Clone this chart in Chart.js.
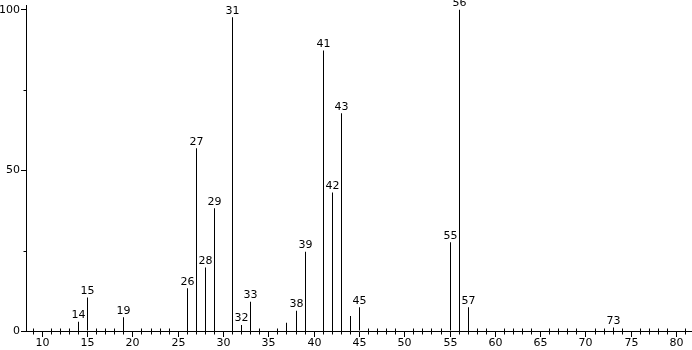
<!DOCTYPE html>
<html>
<head>
<meta charset="utf-8">
<script src="https://cdn.jsdelivr.net/npm/chart.js@4"></script>
<style>
  html, body { margin: 0; padding: 0; background: #fff; }
  #wrap { width: 692px; height: 350px; }
</style>
</head>
<body>
<div id="wrap"><canvas id="spectrum"></canvas></div>
<script>
// m/z values and relative intensities
const mz = [14, 15, 19, 26, 27, 28, 29, 31, 32, 33, 37, 38, 39, 41, 42, 43, 44, 45, 55, 56, 57, 73];
const intensity = [2.9, 10.4, 4.3, 13.3, 56.9, 19.8, 38.2, 97.7, 1.9, 9.1, 2.6, 6.3, 24.7, 87.3, 43.1, 67.8, 4.7, 7.4, 27.6, 100, 7.4, 1.1];
// peaks that carry a label above them
const labeledPeaks = [14, 15, 19, 26, 27, 28, 29, 31, 32, 33, 38, 39, 41, 42, 43, 45, 55, 56, 57, 73];
const xTickLabels = [10, 15, 20, 25, 30, 35, 40, 45, 50, 55, 60, 65, 70, 75, 80];
const yTickLabels = [0, 50, 100];

const FONT_FAMILY = '"DejaVu Sans", Verdana, sans-serif';

function majorColor(list) {
    return c => (!c.tick || list.includes(c.tick.value)) ? '#000' : 'rgba(0,0,0,0)';
}

// snap the m/z axis to pixel centres so the 1px sticks stay crisp
const snapX = {
    id: 'snapX',
    afterLayout(chart) {
        const xs = chart.scales.x;
        if (xs._snapped) return;
        const orig = xs.getPixelForValue;
        xs.getPixelForValue = function (v, i) {
            return Math.floor(orig.call(this, v, i)) + 0.5;
        };
        xs._snapped = true;
    }
};

// minor ticks + peak labels
const extras = {
    id: 'extras',
    afterDraw(chart) {
        const ctx = chart.ctx;
        const xs = chart.scales.x;
        const ys = chart.scales.y;
        const base = Math.round(ys.getPixelForValue(0)) + 0.5;
        const left = Math.round(xs.left) + 0.5;
        ctx.save();
        ctx.strokeStyle = '#000';
        ctx.lineWidth = 1;
        ctx.beginPath();
        xs.ticks.forEach(t => {
            if (xTickLabels.includes(t.value)) return;
            const px = xs.getPixelForValue(t.value);
            ctx.moveTo(px, base - 3);
            ctx.lineTo(px, base + 3);
        });
        ys.ticks.forEach(t => {
            if (yTickLabels.includes(t.value)) return;
            const py = Math.round(ys.getPixelForValue(t.value)) + 0.5;
            ctx.moveTo(left - 3, py);
            ctx.lineTo(left, py);
        });
        ctx.stroke();

        ctx.fillStyle = '#000';
        ctx.font = '11px ' + FONT_FAMILY;
        ctx.textAlign = 'center';
        ctx.textBaseline = 'bottom';
        mz.forEach((m, i) => {
            if (!labeledPeaks.includes(m)) return;
            const px = xs.getPixelForValue(m);
            const py = ys.getPixelForValue(intensity[i]);
            ctx.fillText(String(m), px, py - 1);
        });
        ctx.restore();
    }
};

new Chart(document.getElementById('spectrum'), {
    type: 'bar',
    data: {
        datasets: [{
            data: mz.map((m, i) => ({ x: m, y: intensity[i] })),
            backgroundColor: '#000',
            borderWidth: 0,
            barThickness: 1,
            inflateAmount: 0,
            grouped: false
        }]
    },
    options: {
        responsive: true,
        maintainAspectRatio: false,
        animation: false,
        layout: { padding: { top: 5, left: 0, right: 0, bottom: 0 } },
        plugins: { legend: { display: false }, tooltip: { enabled: false } },
        scales: {
            x: {
                type: 'linear',
                min: 8.2,
                max: 81.7,
                offset: false,
                afterFit(scale) {
                    scale.height = 19;
                    scale.paddingLeft = 0;
                    scale.paddingRight = 0;
                },
                border: { display: true, color: '#000', width: 1 },
                grid: {
                    offset: false,
                    drawOnChartArea: false,
                    tickLength: 6,
                    tickColor: majorColor(xTickLabels)
                },
                ticks: {
                    stepSize: 1,
                    autoSkip: false,
                    maxRotation: 0,
                    includeBounds: false,
                    padding: 0,
                    color: '#000',
                    font: { family: FONT_FAMILY, size: 11 },
                    callback: v => xTickLabels.includes(v) ? String(v) : ''
                }
            },
            y: {
                min: 0,
                max: 101.5,
                afterFit(scale) {
                    scale.width = 26;
                    scale.paddingTop = 0;
                    scale.paddingBottom = 0;
                },
                border: { display: true, color: '#000', width: 1 },
                grid: {
                    drawOnChartArea: false,
                    tickLength: 5,
                    tickColor: majorColor(yTickLabels)
                },
                ticks: {
                    stepSize: 25,
                    includeBounds: false,
                    padding: 1,
                    color: '#000',
                    font: { family: FONT_FAMILY, size: 11 },
                    callback: v => yTickLabels.includes(v) ? String(v) : ''
                }
            }
        }
    },
    plugins: [snapX, extras]
});
</script>
</body>
</html>
